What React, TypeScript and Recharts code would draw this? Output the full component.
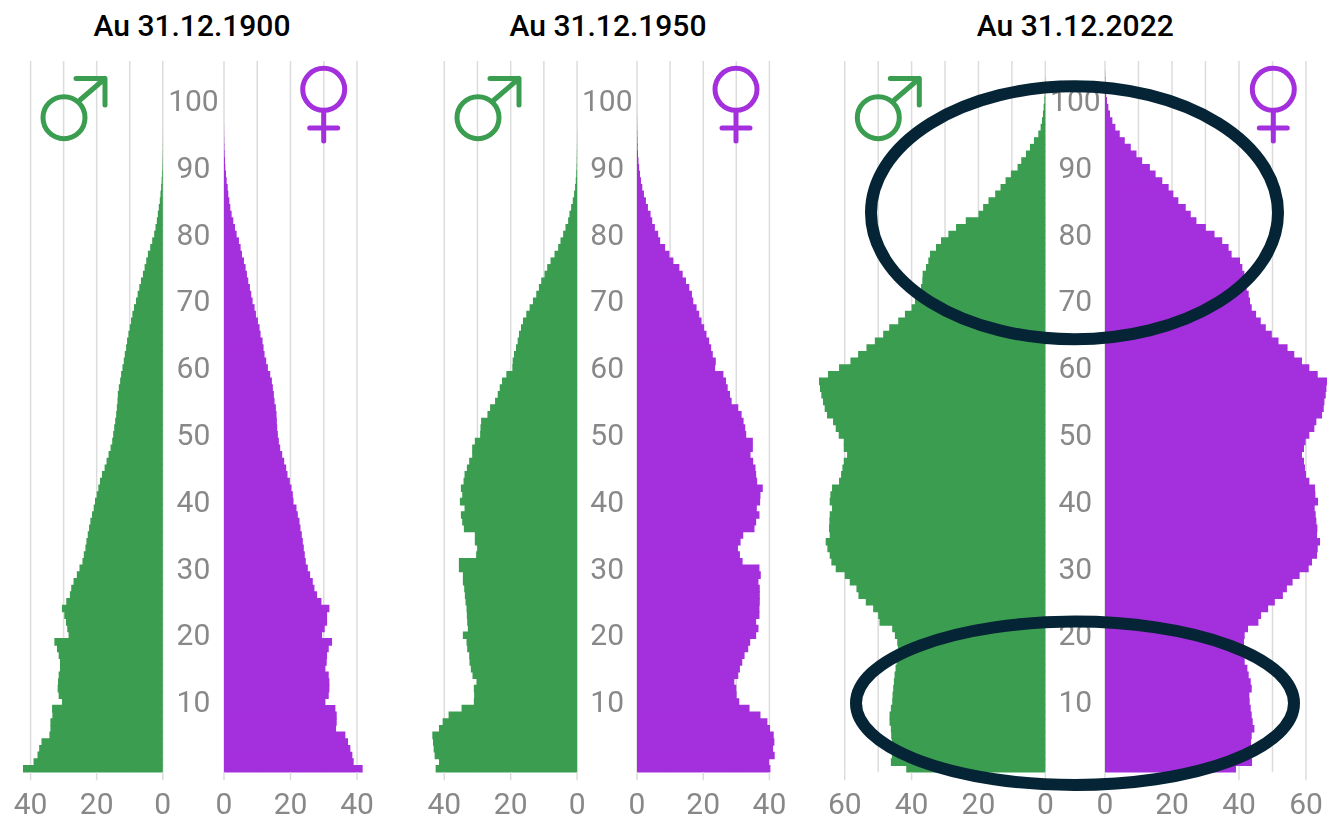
import { Bar, BarChart, CartesianGrid, Rectangle, XAxis, YAxis } from "recharts"

// population per single year of age, index = age
const male1900 = [42.3,39.1,37.9,37.4,36.7,34.3,34,34,33.4,33.5,30.5,31.5,31.8,31.7,31.5,31.1,31.1,31.5,32,32.8,28.5,28.9,29.3,29.8,30.5,29.2,28.1,27.7,27,26,25.2,24.3,23.9,23.4,23.1,22.7,22.3,21.9,21.4,20.9,20.5,20,19.5,19,18.4,17.6,17,16.4,15.8,15.3,15,14.7,14.4,14.1,13.9,13.7,13.6,13.3,12.9,12.6,12.2,11.8,11.5,11.1,10.8,10.4,10,9.6,9.2,8.7,8.1,7.6,7.1,6.6,6,5.5,5,4.5,3.8,3.2,2.6,2.2,1.8,1.5,1.2,0.9,0.7,0.5,0.35,0.25,0.15,0.1,0.06,0.04,0.02,0.01]
const female1900 = [41.7,39,38.6,38,37.3,36.5,33.7,33.9,33.9,33.5,30.5,31.5,31.7,31.7,31.5,30.5,30.9,31,31.5,32.5,29.5,30.3,31,31,31.7,29.3,28,27.2,26.7,25.9,25.2,24.6,24.3,24,23.7,23.4,23,22.7,22.2,21.8,20.9,20.7,20.3,19.8,19.1,18.7,18.1,17.5,16.9,16.5,16.2,16,15.9,15.8,15.6,15.2,15,14.7,14.4,13.9,13.2,12.7,12.2,11.9,11.6,11,10.7,10.2,9.6,9.2,8.6,8.2,7.8,7.3,6.9,6.5,6,5.4,5,4.5,3.8,3.3,2.8,2.3,1.9,1.6,1.3,1.1,0.8,0.6,0.4,0.3,0.2,0.12,0.07,0.04,0.02]

const male1950 = [42.6,41.6,42.9,43.2,43.4,43.6,41.6,40.5,38.7,34.8,31.1,31,31.1,30.3,31.5,32,32.4,32.5,33.1,33.3,34.4,32.9,33.1,33.2,33.3,33.6,33.8,34,34.4,34.4,35.6,35.6,30.4,30.1,30.8,30.8,34.1,34.6,35,33.9,35.3,34.6,35,34.2,33.9,33.2,32.5,31.6,31.6,30.8,29.2,29.1,28.9,27,26.2,24.7,23.9,23.3,22.6,21.3,19.5,19.4,19,18.4,17.9,17.5,16.9,16.3,15.3,14.3,13.3,12.3,11.5,10.8,9.8,9,8,6.8,5.7,5,4.2,3.5,2.7,2.3,1.8,1.3,0.9,0.6,0.4,0.25,0.15,0.1,0.07,0.05,0.03,0.02]
const female1950 = [40.3,39.9,41.6,41.1,41.5,41.3,40.2,39.4,37.3,34,30.9,30.1,30,29.4,30.6,31.1,31.8,32.5,33.6,34.2,36,36.7,36,37,37,37.1,37.1,37.1,36.7,37.4,37,31.9,31.1,30.5,31.3,32.1,35.5,36,37,36.2,37.2,37.3,38,36.3,36,35.8,35.1,34.3,35,35,33,32.7,32.2,31.6,30.6,28.6,28.1,27.4,26.9,26.1,23.6,23.8,22.9,22.4,21.8,21,20.3,19.5,18.8,18,17,16.6,15.8,14.8,13.8,12.8,11,9.8,8.5,7,6.4,5.4,4.6,4.1,3.3,2.7,2.1,1.6,1.2,0.9,0.65,0.45,0.3,0.2,0.15,0.1,0.05,0.03,0.01]

const male2022 = [41.6,46.2,45.9,45.9,45.9,46.1,46.2,46.6,46.6,46.2,45.8,45.7,45.5,45.3,45.1,44.8,44.5,44.2,44.1,44.3,45,45.8,49.6,50,51.5,53.7,55.9,56.5,58.5,60,62.7,64,64.5,65.2,65.7,64.5,64.7,64.6,64.5,63.8,64.5,64.3,63.8,61.7,61.1,60.7,60.3,59.3,60.3,60.3,61.8,62.7,63.5,65.3,66,66.5,67,67.4,67.7,65,61.7,58.3,56,53.5,51,48.5,46.7,44,42,40,39,38,37.2,36.8,36.7,35.7,35,34.5,32.7,31.2,29,26.7,23.8,20,18.6,17,15,13.4,11.9,10.3,8.3,7.2,5.8,4.6,3.4,2.1,1.4,1,0.7,0.5,0.3,0.2,0.1,0.05]
const female2022 = [39.1,43.9,43.6,43.6,43.6,43.8,44.6,44.1,43.8,43.5,43.2,43.1,43.8,43.5,42.9,42.5,41.7,41.4,41.3,41.5,41.7,42.7,45.8,46.6,48.7,50.7,53.1,54.3,56,58.1,60.8,61.8,63.3,63.5,64.2,63.3,63.4,63.1,62.9,62.6,63.6,62.8,62.7,61,60,59.7,59.4,58.8,59.4,59.9,61,62.5,63.1,64.8,65.3,65.5,65.9,66.1,66.3,63.5,61,58.8,56.5,54.5,51.8,49.8,48,46.5,45.1,43.8,43.3,42.9,42.3,42,41.6,41,40.3,37.8,36.9,35,32.7,30.1,27.3,25.6,24.1,21.9,20.4,19,17.1,15.1,13.4,11.1,9.4,7.7,5.9,4.4,3.1,2.2,1.5,1,0.6,0.35,0.2,0.1,0.05]

// rows with a faint light hairline under them in the source picture
const seams1900 = [52]
const seams2022 = [53, 47, 34, 31, 25, 8, 7]

const ageTicks = [10, 20, 30, 40, 50, 60, 70, 80, 90, 100]
const ticks40 = [0, 20, 40]
const ticks60 = [0, 20, 40, 60]
const grid40 = [0, 10, 20, 30, 40]
const grid60 = [0, 10, 20, 30, 40, 50, 60]

const GREEN = "#3a9d50"
const PURPLE = "#a42fdc"
const GRID = "#dcdcdc"
const LABEL = "#888888"
const RING = "#052435"
const FONT = "Roboto, sans-serif"

const PLOT_TOP = 61
const PLOT_BOTTOM = 772.3
const CHART_H = 821
const PAD = 16
const TICK_FONT = 30
const ROW_H = 7.6

const toRows = (values: number[]) => values.map((value, age) => ({ age, value }))

// one-year rows touch each other, as in a population pyramid
const rowShape = (seams: number[]) => (p: any) => {
  const mid = p.y + p.height / 2
  const age = p.age ?? p.payload?.age
  return (
    <g>
      <Rectangle x={p.x} y={mid - ROW_H / 2} width={p.width} height={ROW_H} fill={p.fill} />
      {seams.includes(age) && (
        <rect x={p.x} y={mid + 2.6} width={p.width} height={1} fill="#fff" fillOpacity={0.5} />
      )}
    </g>
  )
}

type SideProps = {
  values: number[]
  zero: number
  px: number
  span: number
  ticks: number[]
  grid: number[]
  seams?: number[]
}

function Male({ values, zero, px, span, ticks, grid, gap, seams = [] }: SideProps & { gap: number }) {
  const plotW = span * px
  return (
    <div style={{ position: "absolute", left: zero - plotW - PAD, top: 0, willChange: "transform" }}>
      <BarChart
        width={PAD + plotW + gap}
        height={CHART_H}
        layout="vertical"
        data={toRows(values)}
        margin={{ top: PLOT_TOP, right: 0, bottom: 0, left: PAD }}
      >
        <CartesianGrid horizontal={false} stroke={GRID} strokeWidth={1.5} verticalValues={grid} />
        <XAxis
          type="number"
          reversed
          domain={[0, span]}
          ticks={ticks}
          interval={0}
          height={CHART_H - PLOT_BOTTOM}
          axisLine={false}
          tickSize={8}
          tickLine={{ stroke: GRID, strokeWidth: 1.5 }}
          tickMargin={12}
          tick={{ fill: LABEL, fontSize: TICK_FONT, fontFamily: FONT }}
        />
        <YAxis
          type="number"
          dataKey="age"
          reversed
          orientation="right"
          domain={[-0.5, 106]}
          ticks={ageTicks}
          interval={0}
          width={gap}
          axisLine={false}
          tickLine={false}
          tick={(p: any) => (
            <text
              x={PAD + plotW + gap / 2}
              y={p.y}
              dy={10}
              textAnchor="middle"
              fill={LABEL}
              fontSize={TICK_FONT}
              fontFamily={FONT}
            >
              {p.payload.value}
            </text>
          )}
        />
        <Bar dataKey="value" fill={GREEN} shape={rowShape(seams)} isAnimationActive={false} />
      </BarChart>
    </div>
  )
}

function Female({ values, zero, px, span, ticks, grid }: SideProps) {
  const plotW = span * px
  return (
    <div style={{ position: "absolute", left: zero - PAD, top: 0, willChange: "transform" }}>
      <BarChart
        width={PAD + plotW + 20}
        height={CHART_H}
        layout="vertical"
        data={toRows(values)}
        margin={{ top: PLOT_TOP, right: 20, bottom: 0, left: PAD }}
      >
        <CartesianGrid horizontal={false} stroke={GRID} strokeWidth={1.5} verticalValues={grid} />
        <XAxis
          type="number"
          domain={[0, span]}
          ticks={ticks}
          interval={0}
          height={CHART_H - PLOT_BOTTOM}
          axisLine={false}
          tickSize={8}
          tickLine={{ stroke: GRID, strokeWidth: 1.5 }}
          tickMargin={12}
          tick={{ fill: LABEL, fontSize: TICK_FONT, fontFamily: FONT }}
        />
        <YAxis type="number" dataKey="age" reversed hide domain={[-0.5, 106]} />
        <Bar dataKey="value" fill={PURPLE} shape={rowShape([])} isAnimationActive={false} />
      </BarChart>
    </div>
  )
}

function MaleSign({ x }: { x: number }) {
  return (
    <g fill="none" stroke={GREEN} strokeWidth={5} strokeLinecap="round" strokeLinejoin="round">
      <circle cx={x} cy={117.7} r={21} />
      <path d={`M${x + 16} 100 L${x + 41} 78.5 M${x + 12} 78.5 H${x + 41} V105`} />
    </g>
  )
}

function FemaleSign({ x }: { x: number }) {
  return (
    <g fill="none" stroke={PURPLE} strokeWidth={5} strokeLinecap="round">
      <circle cx={x} cy={89.3} r={21} />
      <path d={`M${x} 112 V141 M${x - 14} 128 H${x + 14}`} />
    </g>
  )
}

function Title({ x, children }: { x: number; children: string }) {
  return (
    <div
      style={{
        position: "absolute",
        left: x - 150,
        width: 300,
        top: 9,
        textAlign: "center",
        fontFamily: FONT,
        fontWeight: 500,
        fontSize: 30,
        lineHeight: "34px",
        color: "#000",
      }}
    >
      {children}
    </div>
  )
}

export default function App() {
  return (
    <div style={{ position: "absolute", left: 0, top: 0, width: 1327, height: 821, overflow: "hidden", background: "#fff" }}>
      <Title x={192}>Au 31.12.1900</Title>
      <Title x={608}>Au 31.12.1950</Title>
      <Title x={1075.3}>Au 31.12.2022</Title>

      <Male values={male1900} zero={162.7} px={3.305} span={43.5} ticks={ticks40} grid={grid40} gap={61.3} seams={seams1900} />
      <Female values={female1900} zero={224} px={3.325} span={42.5} ticks={ticks40} grid={grid40} />

      <Male values={male1950} zero={576.7} px={3.32} span={44} ticks={ticks40} grid={grid40} gap={60.3} />
      <Female values={female1950} zero={637} px={3.31} span={42.5} ticks={ticks40} grid={grid40} />

      <Male values={male2022} zero={1045.3} px={3.343} span={68} ticks={ticks60} grid={grid60} gap={60} seams={seams2022} />
      <Female values={female2022} zero={1105.3} px={3.35} span={66.5} ticks={ticks60} grid={grid60} />

      <svg width={1327} height={821} style={{ position: "absolute", left: 0, top: 0, pointerEvents: "none", willChange: "transform" }}>
        <MaleSign x={64} />
        <FemaleSign x={323.7} />
        <MaleSign x={478} />
        <FemaleSign x={736} />
        <MaleSign x={878.3} />
        <FemaleSign x={1273.3} />
        <ellipse cx={1074.5} cy={212.8} rx={203.5} ry={126.5} fill="none" stroke={RING} strokeWidth={12} />
        <ellipse cx={1075} cy={703.3} rx={219} ry={81.7} fill="none" stroke={RING} strokeWidth={12} />
      </svg>
    </div>
  )
}
